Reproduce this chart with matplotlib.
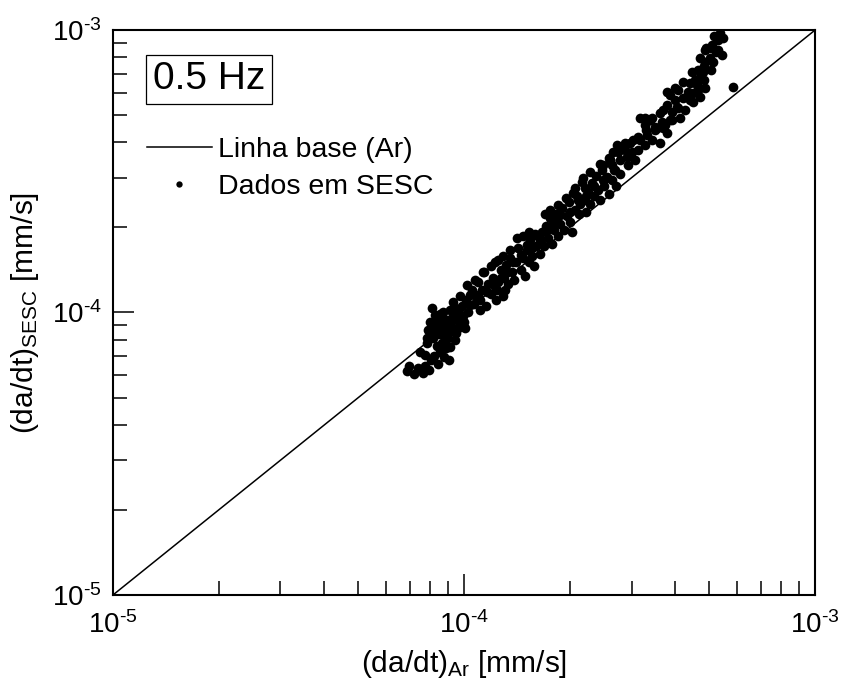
import matplotlib
matplotlib.use("Agg")
import matplotlib.pyplot as plt
from matplotlib.ticker import LogLocator, FuncFormatter, NullFormatter
import numpy as np

plt.rcParams['font.family'] = ['Liberation Sans', 'DejaVu Sans']
plt.rcParams['mathtext.fontset'] = 'custom'
plt.rcParams['mathtext.rm'] = 'Liberation Sans'
plt.rcParams['mathtext.it'] = 'Liberation Sans:italic'
plt.rcParams['mathtext.bf'] = 'Liberation Sans:bold'
plt.rcParams['axes.unicode_minus'] = False

# Baseline (air) growth-rate reference line: da/dt_SESC = da/dt_Ar
base_x = [1e-5, 1e-3]
base_y = [1e-5, 1e-3]

# Crack growth rates measured in SESC vs. baseline in air [mm/s]
rate_ar = [
    # lower tail
    6.9e-5, 6.97e-5, 7.2e-5, 7.39e-5, 7.64e-5, 7.74e-5, 7.95e-5, 8.05e-5, 8.2e-5,
    8.43e-5, 8.54e-5, 8.77e-5, 8.89e-5, 9.06e-5, 8.38e-5, 8.66e-5, 7.74e-5,
    # dense cluster near 1e-4
    7.9e-5, 8.0e-5, 8.11e-5, 8.16e-5, 8.38e-5, 8.43e-5, 8.54e-5, 8.6e-5, 8.71e-5,
    8.83e-5, 8.95e-5, 9.0e-5, 9.12e-5, 9.18e-5, 9.3e-5, 9.36e-5, 9.49e-5, 9.55e-5,
    9.68e-5, 9.74e-5, 9.87e-5, 9.93e-5, 1.006e-4, 1.013e-4, 1.026e-4, 8.0e-5,
    8.27e-5, 8.83e-5, 9.42e-5, 1.04e-4,
    8.11e-5, 8.38e-5, 8.66e-5, 8.89e-5, 9.24e-5, 9.61e-5, 9.8e-5, 8.38e-5, 9.06e-5,
    8.54e-5, 9.42e-5, 1.0e-4, 7.85e-5, 7.49e-5, 7.85e-5, 9.12e-5,
    # 1e-4 .. 1.65e-4
    1.053e-4, 1.068e-4, 1.082e-4, 1.096e-4, 1.11e-4, 1.125e-4, 1.14e-4, 1.154e-4,
    1.17e-4, 1.19e-4, 1.205e-4, 1.221e-4, 1.237e-4, 1.253e-4, 1.27e-4, 1.287e-4,
    1.303e-4, 1.32e-4, 1.338e-4, 1.35e-4, 1.368e-4, 1.386e-4, 1.404e-4, 1.422e-4,
    1.45e-4, 1.469e-4, 1.488e-4, 1.508e-4, 1.528e-4, 1.54e-4, 1.56e-4, 1.58e-4,
    1.6e-4, 1.62e-4, 1.65e-4, 1.11e-4, 1.23e-4, 1.31e-4,
    1.019e-4, 1.074e-4, 1.132e-4, 1.19e-4, 1.246e-4, 1.295e-4, 1.35e-4, 1.413e-4,
    1.469e-4, 1.528e-4, 1.591e-4,
    1.04e-4, 1.096e-4, 1.162e-4, 1.214e-4, 1.27e-4, 1.329e-4, 1.377e-4, 1.45e-4,
    1.508e-4, 1.56e-4, 1.65e-4,
    # 1.65e-4 .. 2.8e-4
    1.672e-4, 1.694e-4, 1.716e-4, 1.738e-4, 1.76e-4, 1.783e-4, 1.806e-4, 1.83e-4,
    1.855e-4, 1.88e-4, 1.905e-4, 1.93e-4, 1.96e-4, 1.985e-4, 2.0e-4, 2.026e-4,
    2.04e-4, 2.07e-4, 2.1e-4, 2.13e-4, 2.14e-4, 2.17e-4, 2.2e-4, 2.23e-4, 2.26e-4,
    2.29e-4, 2.32e-4, 2.35e-4, 2.38e-4, 2.41e-4, 2.44e-4, 2.47e-4, 2.51e-4, 2.54e-4,
    2.58e-4, 2.61e-4, 2.64e-4, 2.68e-4, 2.71e-4, 2.74e-4, 2.78e-4, 1.945e-4,
    2.21e-4, 1.82e-4,
    1.705e-4, 1.76e-4, 1.855e-4, 2.07e-4, 2.182e-4, 2.29e-4, 2.44e-4, 2.58e-4,
    1.727e-4, 1.795e-4, 1.88e-4, 2.0e-4, 2.115e-4, 2.23e-4, 2.35e-4, 2.49e-4,
    2.64e-4, 2.78e-4,
    # upper end
    2.66e-4, 2.91e-4, 3.07e-4, 2.61e-4, 2.49e-4, 2.69e-4, 2.56e-4, 2.78e-4, 2.97e-4,
    3.12e-4, 3.62e-4, 3.29e-4, 3.55e-4, 3.78e-4, 3.27e-4, 3.39e-4, 3.86e-4, 3.62e-4,
    3.69e-4, 4.12e-4, 3.78e-4, 4.04e-4, 4.49e-4, 3.86e-4, 4.07e-4, 4.4e-4, 4.49e-4,
    4.7e-4, 4.61e-4, 4.86e-4, 4.7e-4, 4.79e-4, 4.86e-4, 5.12e-4, 4.86e-4, 5.08e-4,
    5.43e-4, 5.36e-4, 5.47e-4, 5.83e-4,
    2.87e-4, 3.01e-4, 3.17e-4, 3.28e-4, 3.32e-4, 3.44e-4, 3.5e-4, 3.67e-4, 3.74e-4,
    3.91e-4, 3.99e-4, 4.2e-4, 4.26e-4, 4.34e-4, 4.55e-4, 4.64e-4, 5.02e-4, 4.83e-4,
    5.05e-4, 5.29e-4, 5.22e-4,
    2.733e-4, 2.87e-4, 3.03e-4, 3.17e-4, 3.32e-4, 3.5e-4, 3.79e-4, 3.99e-4, 4.2e-4,
    4.46e-4, 4.7e-4, 4.89e-4, 5.15e-4,
    2.93e-4, 3.13e-4, 3.28e-4, 3.44e-4, 3.69e-4, 3.91e-4, 4.07e-4, 4.4e-4, 4.64e-4,
    4.83e-4, 5.05e-4, 5.29e-4,
]
rate_sesc = [
    # lower tail
    6.2e-5, 6.46e-5, 6.06e-5, 6.36e-5, 6.11e-5, 6.46e-5, 6.26e-5, 6.79e-5, 7.02e-5,
    6.57e-5, 7.25e-5, 6.96e-5, 7.49e-5, 6.79e-5, 7.61e-5, 7.8e-5, 7.08e-5,
    # dense cluster near 1e-4
    8.67e-5, 9.25e-5, 1.04e-4, 8.12e-5, 8.81e-5, 9.56e-5, 8.39e-5, 9.1e-5, 1.0e-4,
    8.67e-5, 9.4e-5, 8.12e-5, 1.02e-4, 8.95e-5, 1.092e-4, 9.56e-5, 8.46e-5, 1.02e-4,
    9.25e-5, 1.14e-4, 1.057e-4, 9.71e-5, 8.81e-5, 1.11e-4, 1.004e-4, 8.32e-5,
    9.79e-5, 7.99e-5, 7.99e-5, 1.152e-4,
    8.67e-5, 9.25e-5, 9.56e-5, 8.95e-5, 9.56e-5, 8.81e-5, 9.79e-5, 8.39e-5, 8.53e-5,
    9.87e-5, 1.04e-4, 9.25e-5, 8.12e-5, 7.25e-5, 7.8e-5, 7.55e-5,
    # 1e-4 .. 1.65e-4
    1.2e-4, 1.074e-4, 1.14e-4, 1.279e-4, 1.11e-4, 1.2e-4, 1.387e-4, 1.057e-4,
    1.258e-4, 1.162e-4, 1.321e-4, 1.506e-4, 1.2e-4, 1.279e-4, 1.41e-4, 1.14e-4,
    1.321e-4, 1.469e-4, 1.258e-4, 1.556e-4, 1.387e-4, 1.3e-4, 1.506e-4, 1.696e-4,
    1.41e-4, 1.556e-4, 1.342e-4, 1.66e-4, 1.506e-4, 1.81e-4, 1.58e-4, 1.457e-4,
    1.723e-4, 1.866e-4, 1.607e-4, 1.02e-4, 1.11e-4, 1.2e-4,
    1.248e-4, 1.3e-4, 1.387e-4, 1.457e-4, 1.53e-4, 1.58e-4, 1.66e-4, 1.837e-4,
    1.866e-4, 1.929e-4, 1.897e-4,
    1.066e-4, 1.152e-4, 1.18e-4, 1.248e-4, 1.321e-4, 1.387e-4, 1.506e-4, 1.593e-4,
    1.737e-4, 1.696e-4, 1.81e-4,
    # 1.65e-4 .. 2.8e-4
    1.929e-4, 1.723e-4, 2.028e-4, 1.837e-4, 2.164e-4, 1.752e-4, 1.96e-4, 2.236e-4,
    1.866e-4, 2.062e-4, 2.343e-4, 1.96e-4, 2.2e-4, 2.46e-4, 2.096e-4, 1.929e-4,
    2.645e-4, 2.31e-4, 2.58e-4, 2.236e-4, 2.42e-4, 2.893e-4, 2.5e-4, 2.273e-4,
    2.667e-4, 2.42e-4, 2.87e-4, 2.58e-4, 3.04e-4, 2.71e-4, 2.5e-4, 3.19e-4, 2.8e-4,
    2.99e-4, 2.62e-4, 3.47e-4, 2.94e-4, 3.19e-4, 2.8e-4, 3.7e-4, 3.09e-4, 2.54e-4,
    2.755e-4, 2.13e-4,
    2.236e-4, 2.31e-4, 2.4e-4, 2.755e-4, 2.99e-4, 3.14e-4, 3.36e-4, 3.52e-4,
    1.96e-4, 2.044e-4, 2.218e-4, 2.273e-4, 2.5e-4, 2.58e-4, 2.8e-4, 2.94e-4,
    3.33e-4, 3.47e-4,
    # upper end
    3.7e-4, 3.55e-4, 3.47e-4, 3.47e-4, 3.33e-4, 3.19e-4, 3.01e-4, 3.85e-4, 3.98e-4,
    4.18e-4, 3.98e-4, 4.43e-4, 4.5e-4, 4.32e-4, 4.88e-4, 4.8e-4, 4.8e-4, 5.08e-4,
    5.21e-4, 4.88e-4, 5.42e-4, 5.33e-4, 5.56e-4, 5.88e-4, 6.13e-4, 6.49e-4, 5.98e-4,
    5.79e-4, 6.38e-4, 6.23e-4, 6.82e-4, 7.1e-4, 7.7e-4, 7.7e-4, 8.5e-4, 8.83e-4,
    8.16e-4, 9.78e-4, 9.37e-4, 6.28e-4,
    3.76e-4, 3.7e-4, 4.08e-4, 4.61e-4, 4.25e-4, 4.88e-4, 4.43e-4, 4.72e-4, 4.61e-4,
    5.13e-4, 5.65e-4, 5.75e-4, 5.21e-4, 6.03e-4, 6.65e-4, 7.22e-4, 7.96e-4, 7.45e-4,
    8.61e-4, 9.2e-4, 8.36e-4,
    3.92e-4, 3.98e-4, 4.08e-4, 4.88e-4, 4.76e-4, 4.53e-4, 6.03e-4, 6.23e-4, 6.54e-4,
    7.1e-4, 7.96e-4, 8.61e-4, 9.52e-4,
    3.33e-4, 3.76e-4, 3.92e-4, 4.08e-4, 4.5e-4, 4.8e-4, 5.29e-4, 5.65e-4, 6.13e-4,
    6.65e-4, 7.22e-4, 8.5e-4,
]


def decade_label(val, pos):
    exp = int(round(np.log10(val)))
    sign = r'\text{-}' if exp < 0 else ''
    return r'$\mathdefault{10^{%s%d}}$' % (sign, abs(exp))


fig = plt.figure(figsize=(8.43, 6.81), dpi=100)
ax = fig.add_axes([0.134, 0.1263, 0.833, 0.8297])

ax.plot(base_x, base_y, color='black', lw=1.1, label='Linha base (Ar)', zorder=2)
ax.plot(rate_ar, rate_sesc, ls='none', marker='o', ms=7.0, mfc='black', mec='black',
        mew=0, label='Dados em SESC', zorder=3)

ax.set_xscale('log')
ax.set_yscale('log')
ax.set_xlim(1e-5, 1e-3)
ax.set_ylim(1e-5, 1e-3)

for axis in (ax.xaxis, ax.yaxis):
    axis.set_major_locator(LogLocator(base=10, numticks=10))
    axis.set_major_formatter(FuncFormatter(decade_label))
    axis.set_minor_locator(LogLocator(base=10, subs=range(2, 10), numticks=10))
    axis.set_minor_formatter(NullFormatter())

ax.tick_params(which='both', direction='in', top=False, right=False, width=1.1,
               labelsize=20, colors='black')
ax.tick_params(which='major', length=15)
ax.tick_params(which='minor', length=10)
ax.tick_params(axis='x', which='major', pad=12)
ax.tick_params(axis='y', which='major', pad=8)

for sp in ax.spines.values():
    sp.set_linewidth(1.5)

ax.set_xlabel(r'(da/dt)$_{\mathrm{Ar}}$ [mm/s]', fontsize=21.5, labelpad=6)
ax.set_ylabel(r'(da/dt)$_{\mathrm{SESC}}$ [mm/s]', fontsize=21.5, labelpad=8)

ax.text(0.1368, 0.913, '0.5 Hz', transform=ax.transAxes, ha='center', va='center',
        fontsize=28,
        bbox=dict(boxstyle='square,pad=0.17', fc='white', ec='black', lw=0.9))

leg = ax.legend(loc='upper left', bbox_to_anchor=(0.048, 0.81), frameon=False,
                fontsize=20.5, borderpad=0, borderaxespad=0, handlelength=2.3,
                handletextpad=0.2, labelspacing=0.39, markerscale=0.65)

fig.savefig('out.png', dpi=100)
